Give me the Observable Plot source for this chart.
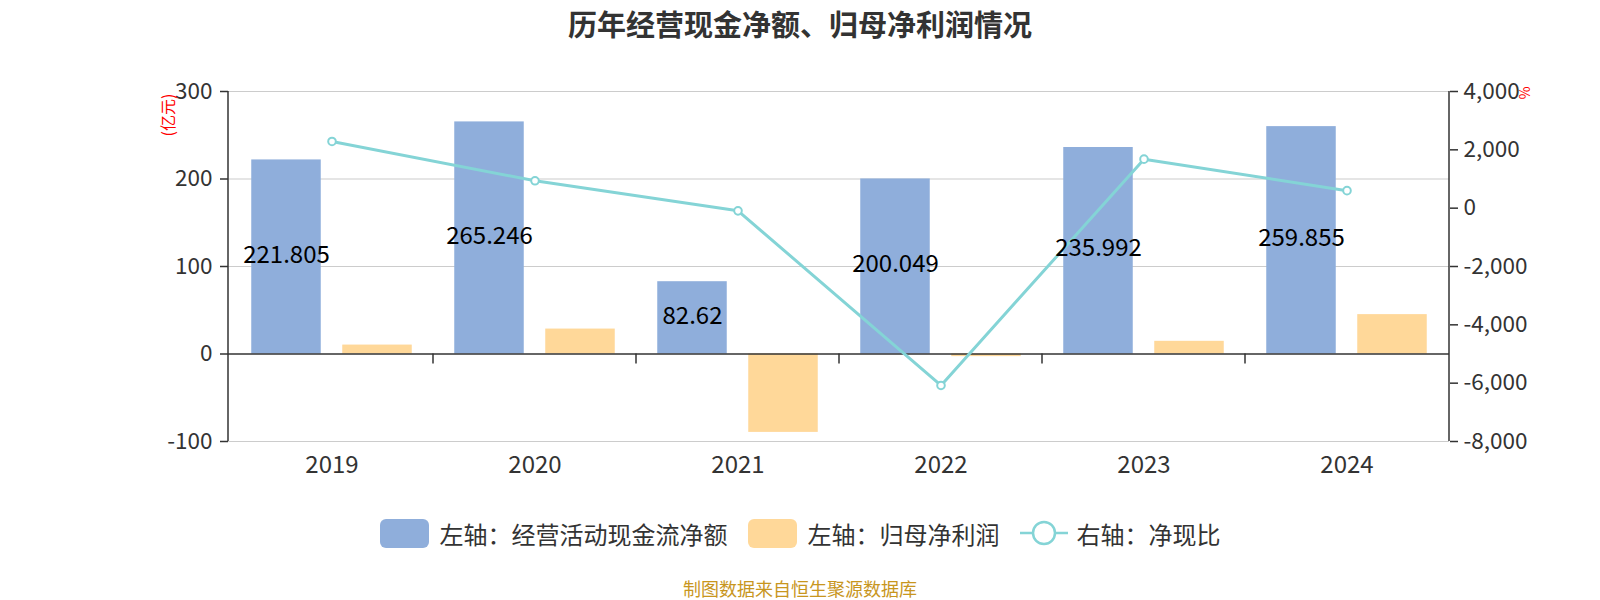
<!DOCTYPE html>
<html>
<head>
<meta charset="utf-8">
<script src="https://cdn.jsdelivr.net/npm/d3@7"></script>
<script src="https://cdn.jsdelivr.net/npm/@observablehq/plot@0.6"></script>
<style>
  body { margin: 0; background: #fff; font-family: "Noto Sans CJK SC", "Noto Sans", sans-serif; }
  #wrap { position: relative; width: 1600px; height: 600px; overflow: hidden; }
  #title { height: 50px; line-height: 46px; text-align: center; font-size: 29px; font-weight: bold; color: #333; }
  #chart { height: 440px; }
  #legend { height: 86px; display: flex; justify-content: center; align-items: center; font-size: 24px; color: #333; }
  .item { display: flex; align-items: center; margin: 0 10px; }
  .sw { width: 49px; height: 29px; border-radius: 6px; margin-right: 11px; }
  #footer { height: 24px; line-height: 24px; text-align: center; font-size: 18px; color: #c8961e; }
  .unit { position: absolute; color: #f00; }
</style>
</head>
<body>
<div id="wrap">
  <div id="title">历年经营现金净额、归母净利润情况</div>
  <div id="chart"></div>
  <div id="legend"></div>
  <div id="footer">制图数据来自恒生聚源数据库</div>
  <div class="unit" style="left:167px; top:115px; font-size:16px; transform: translate(-50%,-50%) rotate(-90deg); white-space:nowrap;">(亿元)</div>
  <div class="unit" style="left:1525px; top:93px; font-size:14px; transform: translate(-50%,-50%) rotate(90deg);">%</div>
</div>
<script>
const years = ["2019", "2020", "2021", "2022", "2023", "2024"];
const cashFlow = [221.805, 265.246, 82.62, 200.049, 235.992, 259.855];
const netProfit = [10.2, 28.5, -89.6, -3.0, 14.5, 45.0];
const ratio = [2287, 939, -92, -6078, 1680, 600];
const leftTicks = [-100, 0, 100, 200, 300];
const rightTicks = [4000, 2000, 0, -2000, -4000, -6000, -8000];
const seriesNames = ["左轴：经营活动现金流净额", "左轴：归母净利润", "右轴：净现比"];

const blue = "#8faedb", orange = "#ffd899", teal = "#84d4d6";

// map right-axis values onto the left-axis domain
const rMin = -8000, rMax = 4000, lMin = -100, lMax = 300;
const toLeft = v => lMin + (v - rMin) * (lMax - lMin) / (rMax - rMin);
const fromLeft = v => rMin + (v - lMin) * (rMax - rMin) / (lMax - lMin);

const table = years.map((year, i) => ({year, cash: cashFlow[i], profit: netProfit[i], ratio: ratio[i]}));

const fmt = v => Math.round(v).toLocaleString("en-US");

const frameLines = (index, scales, values, dims) => {
  const g = d3.create("svg:g");
  const {x, y} = scales;
  const left = dims.marginLeft, right = dims.width - dims.marginRight;
  const top = dims.marginTop, bottom = dims.height - dims.marginBottom;
  g.append("line").attr("x1", left).attr("x2", left).attr("y1", top).attr("y2", bottom)
    .attr("stroke", "#333").attr("stroke-width", 1.5);
  g.append("line").attr("x1", right).attr("x2", right).attr("y1", top).attr("y2", bottom)
    .attr("stroke", "#333").attr("stroke-width", 1.5);
  years.slice(1).forEach(yr => {
    const px = x(yr);
    g.append("line").attr("x1", px).attr("x2", px).attr("y1", y(0)).attr("y2", y(0) + 10)
      .attr("stroke", "#333").attr("stroke-width", 1.5);
  });
  return g.node();
};

const chart = Plot.plot({
  width: 1600,
  height: 440,
  marginLeft: 228,
  marginRight: 151,
  marginTop: 41,
  marginBottom: 49,
  style: {fontFamily: "Noto Sans CJK SC, Noto Sans, sans-serif", color: "#333", background: "#fff"},
  x: {domain: years, padding: 0, axis: null},
  y: {domain: [lMin, lMax], axis: null},
  marks: [
    Plot.ruleY(leftTicks.filter(t => t !== 0), {stroke: "#ccc", strokeWidth: 1.2}),
    Plot.barY(table, {x: "year", y: "cash", fill: blue, dx: -45.5, insetLeft: 66.75, insetRight: 66.75}),
    Plot.barY(table, {x: "year", y: "profit", fill: orange, dx: 45.5, insetLeft: 66.75, insetRight: 66.75}),
    Plot.ruleY([0], {stroke: "#333", strokeWidth: 1.5}),
    frameLines,
    Plot.axisY({ticks: leftTicks, anchor: "left", tickSize: 8, tickPadding: 8, fontSize: 22.5, label: null,
      tickFormat: fmt, strokeWidth: 1.5}),
    Plot.axisY({ticks: rightTicks.map(toLeft), anchor: "right", tickSize: 8, tickPadding: 6, fontSize: 22.5, label: null,
      tickFormat: v => fmt(fromLeft(v)), strokeWidth: 1.5}),
    Plot.axisX({tickSize: 0, tickPadding: 14, fontSize: 24, label: null}),
    Plot.line(table, {x: "year", y: d => toLeft(d.ratio), stroke: teal, strokeWidth: 3}),
    Plot.dot(table, {x: "year", y: d => toLeft(d.ratio), r: 3.8, fill: "white", stroke: teal, strokeWidth: 2}),
    Plot.text(table, {x: "year", y: d => d.cash / 2, text: d => String(d.cash), dx: -45.5, dy: -2, fontSize: 24, fill: "#000"})
  ]
});
document.getElementById("chart").appendChild(chart);

// legend
const legend = document.getElementById("legend");
const colors = [blue, orange];
seriesNames.forEach((name, i) => {
  const item = document.createElement("div");
  item.className = "item";
  if (i < 2) {
    const sw = document.createElement("div");
    sw.className = "sw";
    sw.style.background = colors[i];
    item.appendChild(sw);
  } else {
    const s = d3.create("svg").attr("width", 48).attr("height", 30).style("margin-right", "9px");
    s.append("line").attr("x1", 0).attr("x2", 48).attr("y1", 15).attr("y2", 15).attr("stroke", teal).attr("stroke-width", 2.5);
    s.append("circle").attr("cx", 24).attr("cy", 15).attr("r", 11).attr("fill", "white").attr("stroke", teal).attr("stroke-width", 2.5);
    item.appendChild(s.node());
  }
  const t = document.createElement("span");
  t.textContent = name;
  item.appendChild(t);
  legend.appendChild(item);
});
</script>
</body>
</html>
